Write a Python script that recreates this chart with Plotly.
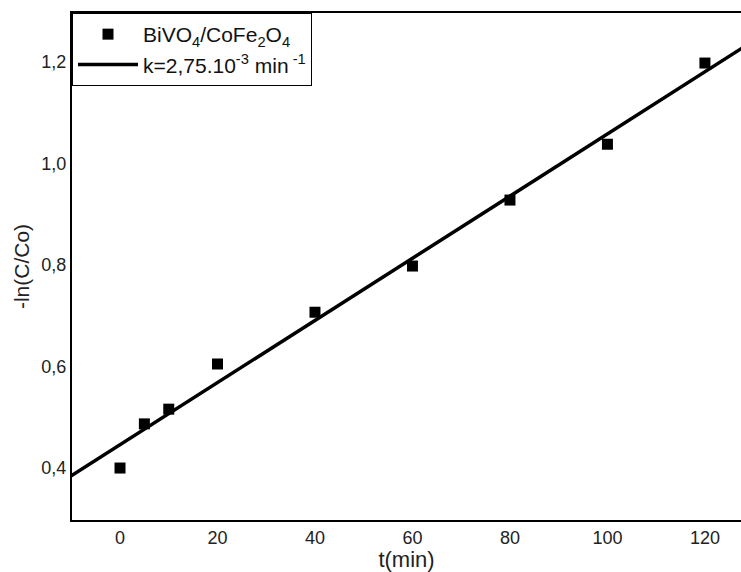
import numpy as np
import plotly.graph_objects as go

t_min = [0, 5, 10, 20, 40, 60, 80, 100, 120]
neg_ln = [0.400, 0.487, 0.516, 0.605, 0.707, 0.798, 0.928, 1.038, 1.198]
x_ticks = [0, 20, 40, 60, 80, 100, 120]
y_ticks = [0.4, 0.6, 0.8, 1.0, 1.2]
fit_span = [-10, 130]

slope, intercept = np.polyfit(t_min, neg_ln, 1)
fit_x = np.array(fit_span, dtype=float)
fit_y = slope * fit_x + intercept

fig = go.Figure()
fig.add_trace(go.Scatter(
    x=t_min, y=neg_ln, mode="markers",
    marker=dict(symbol="square", size=11, color="black"),
    name="BiVO<sub>4</sub>/CoFe<sub>2</sub>O<sub>4</sub>",
))
fig.add_trace(go.Scatter(
    x=fit_x, y=fit_y, mode="lines",
    line=dict(color="black", width=3.5),
    name="k=2,75.10<sup>-3</sup> min<sup> -1</sup>",
))

font_family = "Liberation Sans, Arial, sans-serif"
fig.update_layout(
    width=741, height=572,
    margin=dict(l=72, r=0, t=13, b=52),
    paper_bgcolor="white", plot_bgcolor="white",
    separators=", ",
    font=dict(family=font_family, color="#222", size=18),
    showlegend=True,
    legend=dict(
        x=0, y=1, xanchor="left", yanchor="top",
        bordercolor="black", borderwidth=1, bgcolor="white",
        font=dict(size=21, family=font_family, color="#111"),
        tracegroupgap=0, itemwidth=60,
    ),
    xaxis=dict(
        range=[-9.85, 127.4], tickvals=x_ticks, ticks="",
        showgrid=False, zeroline=False,
        showline=True, linecolor="black", linewidth=2, mirror=True,
        title=dict(text="t(min)", font=dict(size=22), standoff=4),
        tickfont=dict(size=18),
    ),
    yaxis=dict(
        range=[0.2976, 1.2966], tickvals=y_ticks, tickformat=".1f", ticks="",
        showgrid=False, zeroline=False,
        showline=True, linecolor="black", linewidth=2, mirror=False,
        title=dict(text="-ln(C/Co)", font=dict(size=21), standoff=6),
        tickfont=dict(size=18),
    ),
)

fig.write_html("out.html")
